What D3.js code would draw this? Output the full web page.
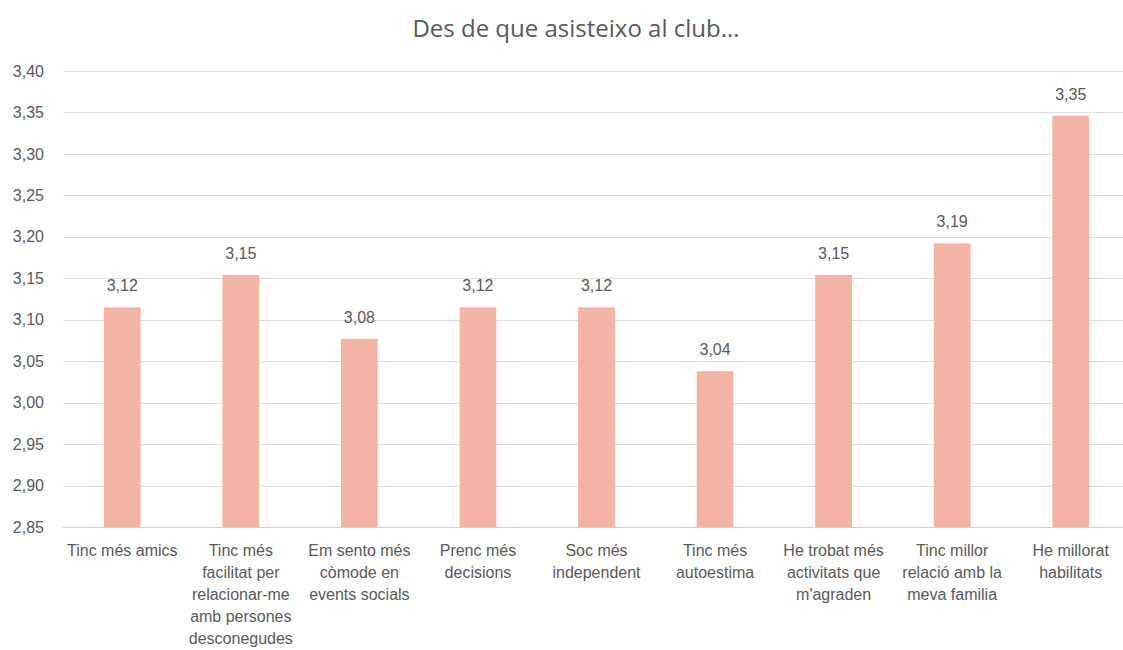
<!DOCTYPE html>
<html>
<head>
<meta charset="utf-8">
<script src="https://cdn.jsdelivr.net/npm/d3@7"></script>
<style>
  body { margin: 0; background: #fff; overflow: hidden; }
  svg { display: block; }
  text { font-family: "Liberation Sans", Arial, sans-serif; fill: #595959; }
</style>
</head>
<body>
<svg id="chart" width="1123" height="650"></svg>
<script>
const title = 'Des de que asisteixo al club...';

const categories = [
  'Tinc més amics',
  'Tinc més\nfacilitat per\nrelacionar-me\namb persones\ndesconegudes',
  'Em sento més\ncòmode en\nevents socials',
  'Prenc més\ndecisions',
  'Soc més\nindependent',
  'Tinc més\nautoestima',
  'He trobat més\nactivitats que\nm\'agraden',
  'Tinc millor\nrelació amb la\nmeva familia',
  'He millorat\nhabilitats'
];

const values = [3.115, 3.154, 3.077, 3.115, 3.115, 3.038, 3.154, 3.192, 3.346];

const yTicks = [2.85, 2.90, 2.95, 3.00, 3.05, 3.10, 3.15, 3.20, 3.25, 3.30, 3.35, 3.40];

const svg = d3.select('#chart');
const fmt = v => d3.format('.2f')(v).replace('.', ',');

const x = d3.scaleBand()
  .domain(categories)
  .range([63, 1130])
  .paddingInner(0.69)
  .paddingOuter(0.345);

const y = d3.scaleLinear()
  .domain([2.85, 3.40])
  .range([527, 71]);

// gridlines
svg.append('g')
  .selectAll('line')
  .data(yTicks)
  .join('line')
  .attr('x1', 63)
  .attr('x2', 1130)
  .attr('y1', d => Math.round(y(d)) + 0.5)
  .attr('y2', d => Math.round(y(d)) + 0.5)
  .attr('stroke', d => d === 2.85 ? '#d0d0d0' : '#dedede')
  .attr('stroke-width', 1);

// y labels
svg.append('g')
  .selectAll('text')
  .data(yTicks)
  .join('text')
  .attr('x', 44)
  .attr('y', d => y(d))
  .attr('dy', '0.35em')
  .attr('text-anchor', 'end')
  .style('font-size', '16px')
  .text(fmt);

// bars
svg.append('g')
  .selectAll('rect')
  .data(values)
  .join('rect')
  .attr('x', (d, i) => x(categories[i]))
  .attr('width', x.bandwidth())
  .attr('y', d => y(d))
  .attr('height', d => y(2.85) - y(d))
  .attr('fill', '#f4b4a4');

// data labels
svg.append('g')
  .selectAll('text')
  .data(values)
  .join('text')
  .attr('x', (d, i) => x(categories[i]) + x.bandwidth() / 2)
  .attr('y', d => y(d) - 16)
  .attr('text-anchor', 'middle')
  .style('font-size', '16px')
  .text(fmt);

// category labels
const catG = svg.append('g')
  .selectAll('text')
  .data(categories)
  .join('text')
  .attr('x', d => x(d) + x.bandwidth() / 2)
  .attr('y', 556)
  .attr('text-anchor', 'middle')
  .style('font-size', '16px');

catG.selectAll('tspan')
  .data(d => d.split('\n'))
  .join('tspan')
  .attr('x', function() { return d3.select(this.parentNode).attr('x'); })
  .attr('dy', (d, i) => i === 0 ? 0 : 22)
  .text(d => d);

// title
svg.append('text')
  .attr('x', 576)
  .attr('y', 37)
  .attr('text-anchor', 'middle')
  .style('font-family', '"Open Sans", sans-serif')
  .style('font-size', '24px')
  .style('font-weight', 500)
  .text(title);
</script>
</body>
</html>
